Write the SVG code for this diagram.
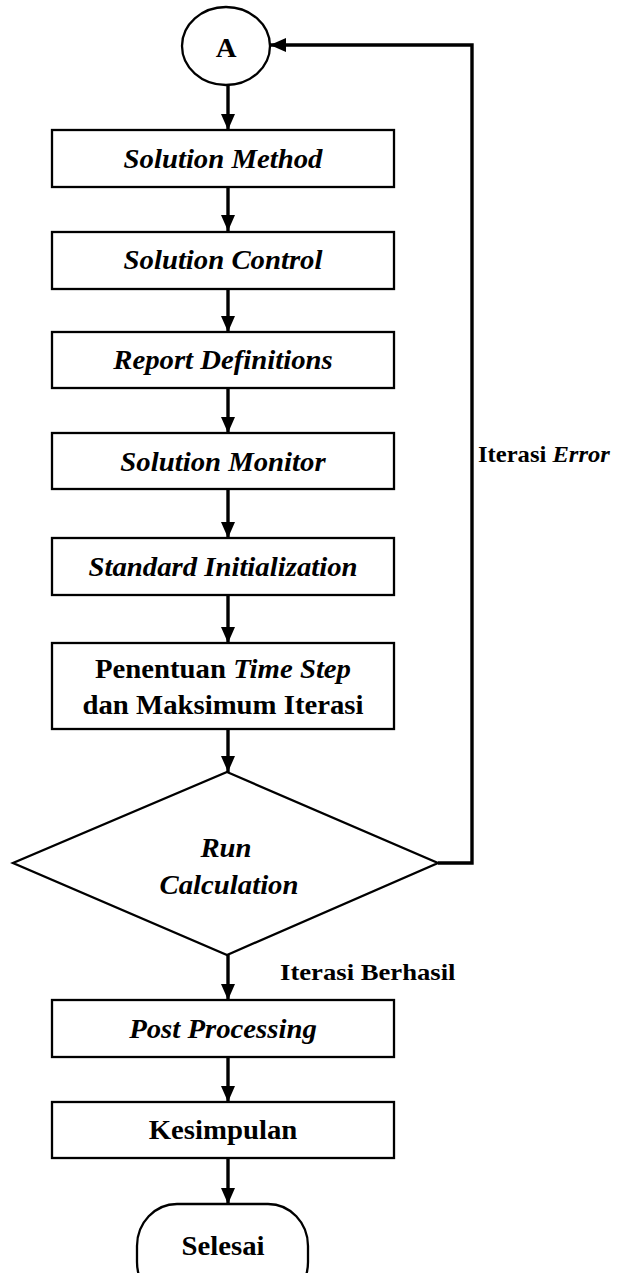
<svg xmlns="http://www.w3.org/2000/svg" width="624" height="1273" viewBox="0 0 624 1273">
<style>
.box{fill:#fff;stroke:#000;stroke-width:2.3}
.t{font-family:"Liberation Serif","Times New Roman",serif;font-size:27px;font-weight:bold;fill:#000;text-anchor:middle}
.i{font-style:italic}
.lbl{font-family:"Liberation Serif","Times New Roman",serif;font-size:23px;font-weight:bold;fill:#000}
.c{fill:none;stroke:#000;stroke-width:3.4}
</style>
<defs>
<marker id="ah" markerUnits="userSpaceOnUse" markerWidth="16" markerHeight="16" viewBox="0 0 16 14" refX="16" refY="7" orient="auto">
<path d="M0,0 L16,7 L0,14 Z" fill="#000"/>
</marker>
</defs>
<rect width="624" height="1273" fill="#fff"/>
<g id="connectors">
<line class="c" x1="228" y1="85" x2="228" y2="130" marker-end="url(#ah)"/>
<line class="c" x1="228" y1="188" x2="228" y2="231" marker-end="url(#ah)"/>
<line class="c" x1="228" y1="290" x2="228" y2="332" marker-end="url(#ah)"/>
<line class="c" x1="228" y1="389" x2="228" y2="433" marker-end="url(#ah)"/>
<line class="c" x1="228" y1="490" x2="228" y2="538" marker-end="url(#ah)"/>
<line class="c" x1="228" y1="596" x2="228" y2="643" marker-end="url(#ah)"/>
<line class="c" x1="228" y1="730" x2="228" y2="772" marker-end="url(#ah)"/>
<line class="c" x1="228" y1="955" x2="228" y2="1000" marker-end="url(#ah)"/>
<line class="c" x1="228" y1="1058" x2="228" y2="1102" marker-end="url(#ah)"/>
<line class="c" x1="228" y1="1159" x2="228" y2="1204" marker-end="url(#ah)"/>
<polyline class="c" points="438,863 472,863 472,45 270,45" stroke-width="3.8" marker-end="url(#ah)"/>
<text class="lbl" transform="translate(478,462) scale(1.07 1)">Iterasi <tspan class="i">Error</tspan></text>
<text class="lbl" transform="translate(280,980) scale(1.16 1)">Iterasi Berhasil</text>
</g>
<g id="nodeA">
<ellipse class="box" cx="226" cy="46" rx="44" ry="39"/>
<text class="t" transform="translate(226,57) scale(1.065 1)">A</text>
</g>
<g id="n1">
<rect class="box" x="52" y="130" width="342" height="57"/>
<text class="t i" transform="translate(223,168) scale(1.065 1)">Solution Method</text>
</g>
<g id="n2">
<rect class="box" x="52" y="232" width="342" height="57"/>
<text class="t i" transform="translate(223,269) scale(1.065 1)">Solution Control</text>
</g>
<g id="n3">
<rect class="box" x="52" y="332" width="342" height="56"/>
<text class="t i" transform="translate(223,369) scale(1.065 1)">Report Definitions</text>
</g>
<g id="n4">
<rect class="box" x="52" y="433" width="342" height="56"/>
<text class="t i" transform="translate(223,471) scale(1.065 1)">Solution Monitor</text>
</g>
<g id="n5">
<rect class="box" x="52" y="538" width="342" height="57"/>
<text class="t i" transform="translate(223,576) scale(1.065 1)">Standard Initialization</text>
</g>
<g id="n6">
<rect class="box" x="52" y="643" width="342" height="86"/>
<text class="t" transform="translate(223,678) scale(1.065 1)">Penentuan <tspan class="i">Time Step</tspan></text>
<text class="t" transform="translate(223,714) scale(1.065 1)">dan Maksimum Iterasi</text>
</g>
<g id="n7">
<polygon class="box" points="227,772 438,863 227,955 13,863"/>
<text class="t i" transform="translate(226,857) scale(1.065 1)">Run</text>
<text class="t i" transform="translate(229,894) scale(1.065 1)">Calculation</text>
</g>
<g id="n8">
<rect class="box" x="52" y="1000" width="342" height="57"/>
<text class="t i" transform="translate(223,1038) scale(1.065 1)">Post Processing</text>
</g>
<g id="n9">
<rect class="box" x="52" y="1102" width="342" height="56"/>
<text class="t" transform="translate(223,1139) scale(1.065 1)">Kesimpulan</text>
</g>
<g id="n10">
<rect class="box" x="137" y="1204" width="171" height="100" rx="40" ry="42"/>
<text class="t" transform="translate(223,1255) scale(1.065 1)">Selesai</text>
</g>
</svg>
